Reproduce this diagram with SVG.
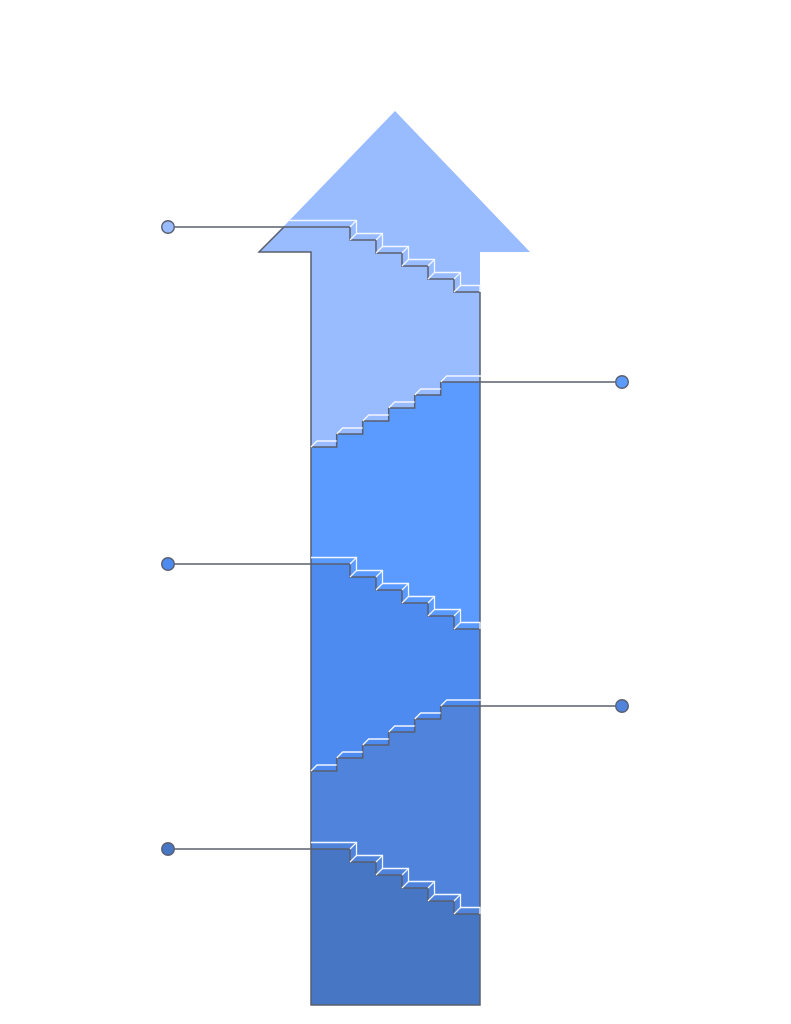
<svg xmlns="http://www.w3.org/2000/svg" width="791" height="1024" viewBox="0 0 791 1024">
<style>
.dk{fill:none;stroke:#5a5f6e;stroke-width:1.5;stroke-linejoin:miter}
.wh{fill:none;stroke:#f2f6ff;stroke-width:1.3;stroke-linejoin:miter}
.cn{fill:none;stroke:#5a5f6e;stroke-width:1.4}
.dot{stroke:#5a5f6e;stroke-width:1.4}
</style>
<rect width="791" height="1024" fill="#ffffff"/>
<g id="arrow">
<g id="section1"><path d="M395,111 L530,252 H480 V1005 H311 V252 H259 Z" fill="#99bbff"/></g>
<g id="section2"><path d="M311,447 H336.7 V434 H362.7 V421 H388.7 V408 H414.7 V395 H440.7 V382 H480 V1005 H311 Z" fill="#5b9bff"/></g>
<g id="section3"><path d="M311,564 H350 V577 H376 V590 H402 V603 H428 V616 H454 V629 H480 V1005 H311 Z" fill="#4d8bf0"/></g>
<g id="section4"><path d="M311,771 H336.7 V758 H362.7 V745 H388.7 V732 H414.7 V719 H440.7 V706 H480 V1005 H311 Z" fill="#5084dc"/></g>
<g id="section5"><path d="M311,849 H350 V862 H376 V875 H402 V888 H428 V901 H454 V914 H480 V1005 H311 Z" fill="#4777c4"/></g>
<g id="outline">
<path class="dk" d="M284,227 L259,252 H311 V1005 H480 V292"/>
<path class="dk" d="M284,227 H350 V240 H376 V253 H402 V266 H428 V279 H454 V292 H480"/>
<path class="dk" d="M311,447 H336.7 V434 H362.7 V421 H388.7 V408 H414.7 V395 H440.7 V382 H480"/>
<path class="dk" d="M311,564 H350 V577 H376 V590 H402 V603 H428 V616 H454 V629 H480"/>
<path class="dk" d="M311,771 H336.7 V758 H362.7 V745 H388.7 V732 H414.7 V719 H440.7 V706 H480"/>
<path class="dk" d="M311,849 H350 V862 H376 V875 H402 V888 H428 V901 H454 V914 H480"/>
</g>
<g id="highlights">
<path class="wh" d="M289.4,220.5 H356.5 V233.5 H382.5 V246.5 H408.5 V259.5 H434.5 V272.5 H460.5 V285.5 H480 V292"/>
<path class="wh" d="M350,227 L356.5,220.5 M350,240 L356.5,233.5 M376,240 L382.5,233.5 M376,253 L382.5,246.5 M402,253 L408.5,246.5 M402,266 L408.5,259.5 M428,266 L434.5,259.5 M428,279 L434.5,272.5 M454,279 L460.5,272.5 M454,292 L460.5,285.5"/>
<path class="wh" d="M311,447 L317,441 H336.7 M336.7,434 L342.7,428 H362.7 M362.7,421 L368.7,415 H388.7 M388.7,408 L394.7,402 H414.7 M414.7,395 L420.7,389 H440.7 M440.7,382 L446.7,376 H481"/>
<path class="wh" d="M311,557.5 H356.5 V570.5 H382.5 V583.5 H408.5 V596.5 H434.5 V609.5 H460.5 V622.5 H480 V629"/>
<path class="wh" d="M350,564 L356.5,557.5 M350,577 L356.5,570.5 M376,577 L382.5,570.5 M376,590 L382.5,583.5 M402,590 L408.5,583.5 M402,603 L408.5,596.5 M428,603 L434.5,596.5 M428,616 L434.5,609.5 M454,616 L460.5,609.5 M454,629 L460.5,622.5"/>
<path class="wh" d="M311,771 L317,765 H336.7 M336.7,758 L342.7,752 H362.7 M362.7,745 L368.7,739 H388.7 M388.7,732 L394.7,726 H414.7 M414.7,719 L420.7,713 H440.7 M440.7,706 L446.7,700 H481"/>
<path class="wh" d="M311,842.5 H356.5 V855.5 H382.5 V868.5 H408.5 V881.5 H434.5 V894.5 H460.5 V907.5 H480 V914"/>
<path class="wh" d="M350,849 L356.5,842.5 M350,862 L356.5,855.5 M376,862 L382.5,855.5 M376,875 L382.5,868.5 M402,875 L408.5,868.5 M402,888 L408.5,881.5 M428,888 L434.5,881.5 M428,901 L434.5,894.5 M454,901 L460.5,894.5 M454,914 L460.5,907.5"/>
</g>
</g>
<g id="connectors">
<path class="cn" d="M174.5,227 H284"/>
<path class="cn" d="M480,382 H615.5"/>
<path class="cn" d="M174.5,564 H311"/>
<path class="cn" d="M480,706 H615.5"/>
<path class="cn" d="M174.5,849 H311"/>
</g>
<g id="dot1"><circle class="dot" cx="168" cy="227" r="6.3" fill="#99bbff"/></g>
<g id="dot2"><circle class="dot" cx="622" cy="382" r="6.3" fill="#5b9bff"/></g>
<g id="dot3"><circle class="dot" cx="168" cy="564" r="6.3" fill="#4d8bf0"/></g>
<g id="dot4"><circle class="dot" cx="622" cy="706" r="6.3" fill="#5084dc"/></g>
<g id="dot5"><circle class="dot" cx="168" cy="849" r="6.3" fill="#4777c4"/></g>
</svg>
